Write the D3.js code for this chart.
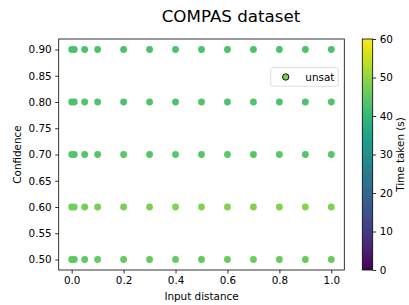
<!DOCTYPE html>
<html>
<head>
<meta charset="utf-8">
<script src="https://cdn.jsdelivr.net/npm/d3@7"></script>
<style>
  body { margin: 0; background: #fff; }
  svg { display: block; font-family: 'DejaVu Sans', sans-serif; }
</style>
</head>
<body>
<script>
// data
var distances = [0, 0.01, 0.05, 0.1, 0.2, 0.3, 0.4, 0.5, 0.6, 0.7, 0.8, 0.9, 1.0]
var confidences = [0.9, 0.8, 0.7, 0.6, 0.5]
// time taken (s), one row per confidence level, one value per distance
var times = [
  [43, 43, 43, 43, 43, 43, 43, 43, 43, 43, 43, 43, 43],
  [43, 43, 43.5, 43.5, 43, 43.5, 43, 43.5, 43, 43.5, 43, 43, 43.5],
  [44, 44, 44, 44, 44.5, 44, 44.5, 44, 44.5, 44, 44.5, 44, 44.5],
  [47, 47, 47, 47.5, 47.5, 48, 48.5, 48.5, 48.5, 48.5, 48.5, 49, 48],
  [45, 45, 45, 45.5, 45.5, 45.5, 45.5, 45.5, 46, 46.5, 45.5, 46, 45.5]
]
var xTicks = [0, 0.2, 0.4, 0.6, 0.8, 1.0]
var yTicks = [0.5, 0.55, 0.6, 0.65, 0.7, 0.75, 0.8, 0.85, 0.9]
var cbTicks = [0, 10, 20, 30, 40, 50, 60]

var width = 409
var height = 305
var plot = { left: 58.7, right: 344.3, top: 39, bottom: 270 }
var cbar = { left: 362.3, right: 372.7 }

var svg = d3.select('body').append('svg')
  .attr('width', width)
  .attr('height', height)

var x = d3.scaleLinear().domain([-0.05, 1.05]).range([plot.left, plot.right])
var y = d3.scaleLinear().domain([0.48, 0.92]).range([plot.bottom, plot.top])
var color = d3.scaleSequential(d3.interpolateViridis).domain([0, 60])
var cy = d3.scaleLinear().domain([0, 60]).range([plot.bottom, plot.top])

var points = []
confidences.forEach(function (c, i) {
  distances.forEach(function (d, j) {
    points.push({ d: d, c: c, t: times[i][j] })
  })
})

svg.append('g')
  .selectAll('circle')
  .data(points)
  .enter().append('circle')
  .attr('cx', function (p) { return x(p.d) })
  .attr('cy', function (p) { return y(p.c) })
  .attr('r', 3.4)
  .style('fill', function (p) { return color(p.t) })

// axes
var xAxis = svg.append('g')
  .attr('transform', 'translate(0,' + plot.bottom + ')')
  .call(d3.axisBottom(x).tickValues(xTicks).tickFormat(d3.format('.1f')).tickSize(3.5).tickPadding(3.5))
var yAxis = svg.append('g')
  .attr('transform', 'translate(' + plot.left + ',0)')
  .call(d3.axisLeft(y).tickValues(yTicks).tickFormat(d3.format('.2f')).tickSize(3.5).tickPadding(3.5))

;[xAxis, yAxis].forEach(function (g) {
  g.select('.domain').remove()
  g.selectAll('line').style('stroke', '#000').style('stroke-width', 0.8)
  g.selectAll('text').style('font-size', '10.4px').style('fill', '#000').style('font-family', 'DejaVu Sans')
})

svg.append('rect')
  .attr('x', plot.left)
  .attr('y', plot.top)
  .attr('width', plot.right - plot.left)
  .attr('height', plot.bottom - plot.top)
  .style('fill', 'none')
  .style('stroke', '#000')
  .style('stroke-width', 0.8)

// labels
svg.append('text')
  .attr('x', 231)
  .attr('y', 21.5)
  .attr('text-anchor', 'middle')
  .style('font-size', '16.7px')
  .text('COMPAS dataset')

svg.append('text')
  .attr('x', (plot.left + plot.right) / 2)
  .attr('y', 299.5)
  .attr('text-anchor', 'middle')
  .style('font-size', '10.4px')
  .text('Input distance')

svg.append('text')
  .attr('transform', 'translate(21,' + (plot.top + plot.bottom) / 2 + ') rotate(-90)')
  .attr('text-anchor', 'middle')
  .style('font-size', '10.4px')
  .text('Confidence')

// legend
var legend = svg.append('g')
legend.append('rect')
  .attr('x', 270.7)
  .attr('y', 67.7)
  .attr('width', 67.6)
  .attr('height', 18.5)
  .attr('rx', 2)
  .style('fill', '#fff')
  .style('fill-opacity', 0.8)
  .style('stroke', '#d6d6d6')
  .style('stroke-width', 0.8)
legend.append('circle')
  .attr('cx', 285.7)
  .attr('cy', 77)
  .attr('r', 3.2)
  .style('fill', color(48))
  .style('stroke', '#000')
  .style('stroke-width', 0.9)
legend.append('text')
  .attr('x', 305.3)
  .attr('y', 80.8)
  .style('font-size', '10.4px')
  .text('unsat')

// colorbar
var defs = svg.append('defs')
var grad = defs.append('linearGradient')
  .attr('id', 'viridis')
  .attr('x1', 0).attr('y1', 1).attr('x2', 0).attr('y2', 0)
d3.range(0, 1.0001, 0.05).forEach(function (t) {
  grad.append('stop')
    .attr('offset', t)
    .attr('stop-color', d3.interpolateViridis(t))
})
svg.append('rect')
  .attr('x', cbar.left)
  .attr('y', plot.top)
  .attr('width', cbar.right - cbar.left)
  .attr('height', plot.bottom - plot.top)
  .style('fill', 'url(#viridis)')
  .style('stroke', '#000')
  .style('stroke-width', 0.8)

var cAxis = svg.append('g')
  .attr('transform', 'translate(' + cbar.right + ',0)')
  .call(d3.axisRight(cy).tickValues(cbTicks).tickSize(3.5).tickPadding(3.5))
cAxis.select('.domain').remove()
cAxis.selectAll('line').style('stroke', '#000').style('stroke-width', 0.8)
cAxis.selectAll('text').style('font-size', '10.4px').style('fill', '#000').style('font-family', 'DejaVu Sans')

svg.append('text')
  .attr('transform', 'translate(404,' + (plot.top + plot.bottom) / 2 + ') rotate(-90)')
  .attr('text-anchor', 'middle')
  .style('font-size', '10.4px')
  .text('Time taken (s)')
</script>
</body>
</html>
